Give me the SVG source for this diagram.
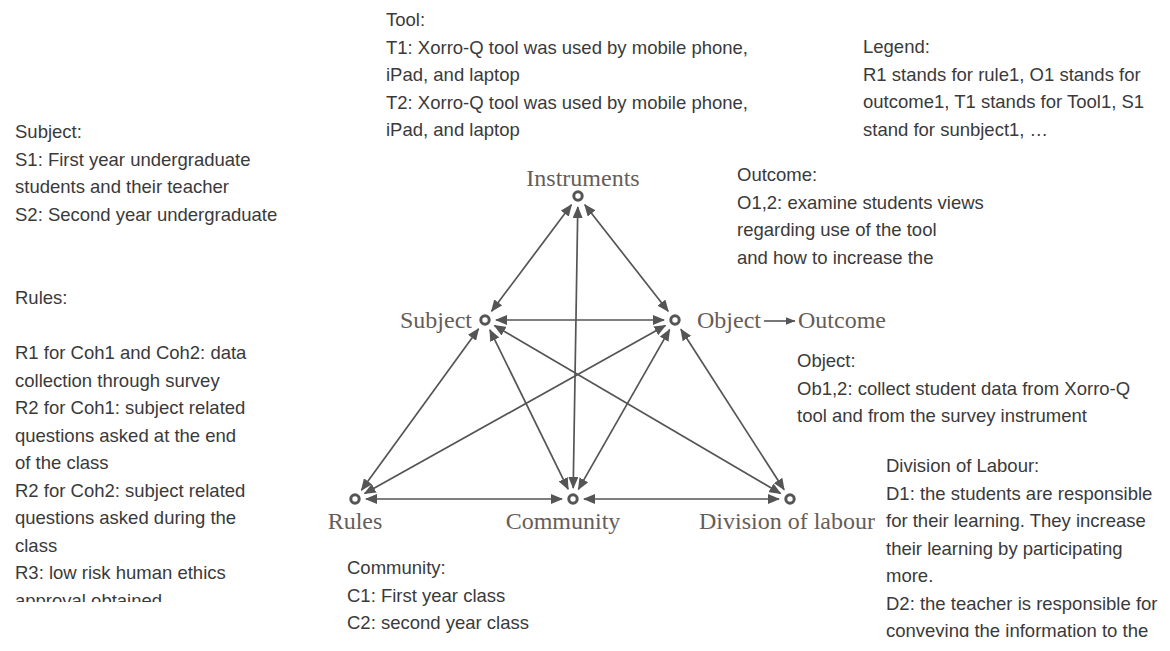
<svg xmlns="http://www.w3.org/2000/svg" width="1170" height="651" viewBox="0 0 1170 651">
<style>
.t{font-family:"Liberation Sans",Arial,sans-serif;font-size:18.5px;fill:#3a3a3a}
.lb{font-family:"Liberation Serif","Times New Roman",serif;font-size:24px;fill:#665d57}
.n{fill:#fff;stroke:#555;stroke-width:3}
.c{stroke:#555;stroke-width:1.7;fill:none;marker-start:url(#ah);marker-end:url(#ah)}
.c1{stroke:#555;stroke-width:1.6;fill:none;marker-end:url(#ah2)}
</style>
<defs>
<marker id="ah" markerUnits="userSpaceOnUse" viewBox="0 0 12 10" refX="11" refY="5" markerWidth="12" markerHeight="10" orient="auto-start-reverse">
<path d="M0,0 L12,5 L0,10 z" fill="#555"/>
</marker>
<marker id="ah2" markerUnits="userSpaceOnUse" viewBox="0 0 10 8" refX="9.5" refY="4" markerWidth="10" markerHeight="8" orient="auto">
<path d="M0,0 L10,4 L0,8 z" fill="#555"/>
</marker>
<clipPath id="clipRules"><rect x="0" y="280" width="330" height="322"/></clipPath>
<clipPath id="clipDiv"><rect x="870" y="440" width="300" height="197"/></clipPath>
</defs>
<rect width="1170" height="651" fill="#fff"/>

<g id="connectors">
<line class="c" x1="571.4" y1="204.8" x2="491.6" y2="311.2"/>
<line class="c" x1="584.8" y1="204.7" x2="668.2" y2="311.3"/>
<line class="c" x1="577.8" y1="207" x2="573.2" y2="488"/>
<line class="c" x1="496" y1="320" x2="664" y2="320"/>
<line class="c" x1="478.5" y1="328.9" x2="361.5" y2="490.1"/>
<line class="c" x1="489.9" y1="329.9" x2="568.1" y2="489.1"/>
<line class="c" x1="494.5" y1="325.6" x2="780.5" y2="493.4"/>
<line class="c" x1="665.4" y1="325.4" x2="364.6" y2="493.6"/>
<line class="c" x1="669.6" y1="329.6" x2="578.4" y2="489.4"/>
<line class="c" x1="680.9" y1="329.3" x2="784.1" y2="489.7"/>
<line class="c" x1="366" y1="499" x2="562" y2="499"/>
<line class="c" x1="584" y1="499" x2="779" y2="499"/>
<line class="c1" x1="764" y1="321" x2="795" y2="321"/>
</g>

<g id="node-instruments">
<circle class="n" cx="578" cy="196" r="4.2"/>
<text class="lb" x="583" y="186" text-anchor="middle">Instruments</text>
</g>
<g id="node-subject">
<circle class="n" cx="485" cy="320" r="4.2"/>
<text class="lb" x="472" y="328" text-anchor="end">Subject</text>
</g>
<g id="node-object">
<circle class="n" cx="675" cy="320" r="4.2"/>
<text class="lb" x="697" y="328">Object</text>
</g>
<g id="node-outcome">
<text class="lb" x="798" y="328">Outcome</text>
</g>
<g id="node-rules">
<circle class="n" cx="355" cy="499" r="4.2"/>
<text class="lb" x="355" y="529" text-anchor="middle">Rules</text>
</g>
<g id="node-community">
<circle class="n" cx="573" cy="499" r="4.2"/>
<text class="lb" x="563" y="529" text-anchor="middle">Community</text>
</g>
<g id="node-division">
<circle class="n" cx="790" cy="499" r="4.2"/>
<text class="lb" x="787" y="529" text-anchor="middle">Division of labour</text>
</g>

<g id="text-tool" class="t">
<text x="386" y="26">Tool:</text>
<text x="386" y="53.5">T1: Xorro-Q tool was used by mobile phone,</text>
<text x="386" y="81">iPad, and laptop</text>
<text x="386" y="108.5">T2: Xorro-Q tool was used by mobile phone,</text>
<text x="386" y="136">iPad, and laptop</text>
</g>
<g id="text-legend" class="t">
<text x="863" y="53">Legend:</text>
<text x="863" y="80.5">R1 stands for rule1, O1 stands for</text>
<text x="863" y="108">outcome1, T1 stands for Tool1, S1</text>
<text x="863" y="135.5">stand for sunbject1,  …</text>
</g>
<g id="text-subject" class="t">
<text x="15" y="138">Subject:</text>
<text x="15" y="165.5">S1: First year undergraduate</text>
<text x="15" y="193">students and their teacher</text>
<text x="15" y="220.5">S2: Second year undergraduate</text>
</g>
<g id="text-rules" class="t" clip-path="url(#clipRules)">
<text x="15" y="304">Rules:</text>
<text x="15" y="359">R1 for Coh1 and Coh2: data</text>
<text x="15" y="386.5">collection through survey</text>
<text x="15" y="414">R2 for Coh1: subject related</text>
<text x="15" y="441.5">questions asked at the end</text>
<text x="15" y="469">of the class</text>
<text x="15" y="496.5">R2 for Coh2: subject related</text>
<text x="15" y="524">questions asked during the</text>
<text x="15" y="551.5">class</text>
<text x="15" y="579">R3: low risk human ethics</text>
<text x="15" y="606.5">approval obtained</text>
</g>
<g id="text-outcome" class="t">
<text x="737" y="181">Outcome:</text>
<text x="737" y="208.5">O1,2: examine students views</text>
<text x="737" y="236">regarding use of the tool</text>
<text x="737" y="263.5">and how to increase the</text>
</g>
<g id="text-object" class="t">
<text x="797" y="367">Object:</text>
<text x="797" y="394.5">Ob1,2: collect student data from Xorro-Q</text>
<text x="797" y="422">tool and from the survey instrument</text>
</g>
<g id="text-division" class="t" clip-path="url(#clipDiv)">
<text x="886" y="472">Division of Labour:</text>
<text x="886" y="499.5">D1: the students are responsible</text>
<text x="886" y="527">for their learning. They increase</text>
<text x="886" y="554.5">their learning by participating</text>
<text x="886" y="582">more.</text>
<text x="886" y="609.5">D2: the teacher is responsible for</text>
<text x="886" y="637">conveying the information to the</text>
</g>
<g id="text-community" class="t">
<text x="347" y="574">Community:</text>
<text x="347" y="601.5">C1: First year class</text>
<text x="347" y="629">C2: second year class</text>
</g>
</svg>
